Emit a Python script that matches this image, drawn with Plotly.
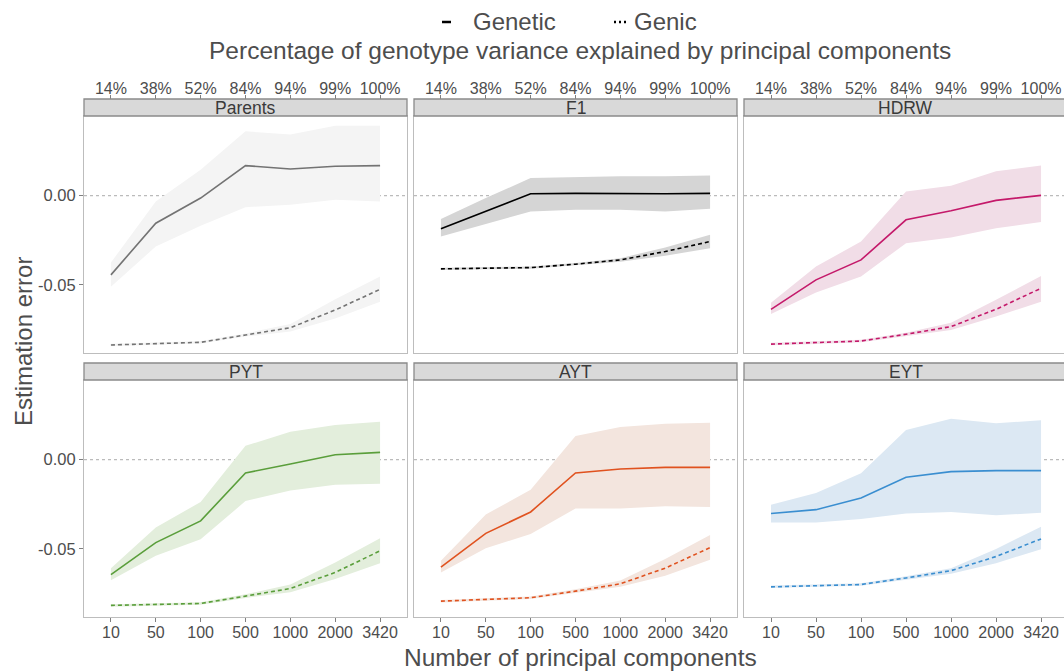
import plotly.graph_objects as go

# ---------------- data ----------------
pcs = ["10", "50", "100", "500", "1000", "2000", "3420"]
pct_labels = ["14%", "38%", "52%", "84%", "94%", "99%", "100%"]
populations = ["Parents", "F1", "HDRW", "PYT", "AYT", "EYT"]
y_tickvals = [-0.05, 0.0]
y_ticktext = ["-0.05", "0.00"]

parents_genetic = [-0.0444, -0.0154, -0.0013, 0.0169, 0.0150, 0.0165, 0.0169]
parents_genetic_hi = [-0.0375, -0.0032, 0.0146, 0.0361, 0.0343, 0.0393, 0.0393]
parents_genetic_lo = [-0.0510, -0.0285, -0.0169, -0.0064, -0.0051, -0.0022, -0.0032]
parents_genic = [-0.0837, -0.0828, -0.0822, -0.0781, -0.0740, -0.0641, -0.0525]
parents_genic_hi = [-0.0830, -0.0821, -0.0815, -0.0772, -0.0719, -0.0581, -0.0453]
parents_genic_lo = [-0.0844, -0.0835, -0.0829, -0.0790, -0.0762, -0.0688, -0.0594]

f1_genetic = [-0.0185, -0.0088, 0.0011, 0.0013, 0.0011, 0.0011, 0.0013]
f1_genetic_hi = [-0.0131, -0.0013, 0.0099, 0.0105, 0.0109, 0.0109, 0.0114]
f1_genetic_lo = [-0.0229, -0.0157, -0.0088, -0.0079, -0.0079, -0.0088, -0.0073]
f1_genic = [-0.0410, -0.0407, -0.0403, -0.0384, -0.0360, -0.0313, -0.0257]
f1_genic_hi = [-0.0404, -0.0401, -0.0397, -0.0377, -0.0350, -0.0290, -0.0219]
f1_genic_lo = [-0.0416, -0.0413, -0.0409, -0.0391, -0.0370, -0.0337, -0.0294]

hdrw_genetic = [-0.0637, -0.0472, -0.0360, -0.0135, -0.0084, -0.0026, 0.0002]
hdrw_genetic_hi = [-0.0600, -0.0397, -0.0257, 0.0024, 0.0056, 0.0137, 0.0169]
hdrw_genetic_lo = [-0.0663, -0.0543, -0.0453, -0.0266, -0.0234, -0.0182, -0.0148]
hdrw_genic = [-0.0832, -0.0824, -0.0815, -0.0777, -0.0734, -0.0637, -0.0519]
hdrw_genic_hi = [-0.0825, -0.0817, -0.0808, -0.0768, -0.0712, -0.0584, -0.0450]
hdrw_genic_lo = [-0.0839, -0.0831, -0.0822, -0.0786, -0.0753, -0.0678, -0.0594]

pyt_genetic = [-0.0644, -0.0465, -0.0343, -0.0074, -0.0024, 0.0028, 0.0041]
pyt_genetic_hi = [-0.0608, -0.0380, -0.0237, 0.0078, 0.0157, 0.0194, 0.0213]
pyt_genetic_lo = [-0.0676, -0.0539, -0.0446, -0.0232, -0.0172, -0.0141, -0.0135]
pyt_genic = [-0.0817, -0.0813, -0.0806, -0.0765, -0.0722, -0.0632, -0.0511]
pyt_genic_hi = [-0.0810, -0.0806, -0.0799, -0.0755, -0.0700, -0.0576, -0.0441]
pyt_genic_lo = [-0.0824, -0.0820, -0.0813, -0.0775, -0.0743, -0.0669, -0.0580]

ayt_genetic = [-0.0602, -0.0413, -0.0293, -0.0074, -0.0052, -0.0043, -0.0043]
ayt_genetic_hi = [-0.0567, -0.0307, -0.0169, 0.0133, 0.0183, 0.0202, 0.0207]
ayt_genetic_lo = [-0.0632, -0.0496, -0.0417, -0.0274, -0.0274, -0.0261, -0.0265]
ayt_genic = [-0.0793, -0.0784, -0.0774, -0.0737, -0.0696, -0.0608, -0.0493]
ayt_genic_hi = [-0.0786, -0.0777, -0.0767, -0.0727, -0.0678, -0.0557, -0.0422]
ayt_genic_lo = [-0.0800, -0.0791, -0.0781, -0.0747, -0.0713, -0.0650, -0.0561]

eyt_genetic = [-0.0302, -0.0280, -0.0215, -0.0098, -0.0067, -0.0061, -0.0061]
eyt_genetic_hi = [-0.0252, -0.0187, -0.0076, 0.0167, 0.0230, 0.0204, 0.0221]
eyt_genetic_lo = [-0.0352, -0.0352, -0.0333, -0.0302, -0.0293, -0.0311, -0.0298]
eyt_genic = [-0.0713, -0.0706, -0.0700, -0.0663, -0.0622, -0.0543, -0.0444]
eyt_genic_hi = [-0.0706, -0.0699, -0.0693, -0.0654, -0.0608, -0.0500, -0.0376]
eyt_genic_lo = [-0.0720, -0.0713, -0.0707, -0.0672, -0.0639, -0.0580, -0.0502]

line_colors = ["#737373", "#000000", "#c4196a", "#5a9e3b", "#e0521f", "#3a8ed0"]
ribbon_colors = ["#f4f4f4", "#d5d5d5", "#f1dde7", "#e3eedc", "#f3e5de", "#dce8f3"]

table = [
    (parents_genetic, parents_genetic_lo, parents_genetic_hi, parents_genic, parents_genic_lo, parents_genic_hi),
    (f1_genetic, f1_genetic_lo, f1_genetic_hi, f1_genic, f1_genic_lo, f1_genic_hi),
    (hdrw_genetic, hdrw_genetic_lo, hdrw_genetic_hi, hdrw_genic, hdrw_genic_lo, hdrw_genic_hi),
    (pyt_genetic, pyt_genetic_lo, pyt_genetic_hi, pyt_genic, pyt_genic_lo, pyt_genic_hi),
    (ayt_genetic, ayt_genetic_lo, ayt_genetic_hi, ayt_genic, ayt_genic_lo, ayt_genic_hi),
    (eyt_genetic, eyt_genetic_lo, eyt_genetic_hi, eyt_genic, eyt_genic_lo, eyt_genic_hi),
]

# ---------------- layout geometry (pixels of a 1064x672 page) ----------------
W, H = 1064, 672
col_px = [(84, 407), (414, 737), (744, 1064)]
row_px = [(116, 353), (380, 617)]
strip_h = 17
x_ranges = [[-0.6, 6.6], [-0.6, 6.6], [-0.6, 6.51]]
y_range = [-0.0882, 0.0447]

def px_x(p):
    return p / W

def px_y(p):
    return 1 - p / H

FONT = "Liberation Sans, Arial, sans-serif"
TXT = "#4d4d4d"

fig = go.Figure()
layout = dict(
    width=W, height=H,
    margin=dict(l=0, r=0, t=0, b=0),
    paper_bgcolor="white", plot_bgcolor="white",
    showlegend=False,
    font=dict(family=FONT, color=TXT),
)
shapes = []
annotations = []

for k, pop in enumerate(populations):
    r, c = divmod(k, 3)
    xname = "x" if k == 0 else f"x{k+1}"
    yname = "y" if k == 0 else f"y{k+1}"
    gen, gen_lo, gen_hi, gnc, gnc_lo, gnc_hi = table[k]

    for lo, hi in ((gen_lo, gen_hi), (gnc_lo, gnc_hi)):
        fig.add_trace(go.Scatter(
            x=pcs + pcs[::-1], y=hi + lo[::-1], fill="toself",
            fillcolor=ribbon_colors[k], line=dict(width=0), mode="lines",
            hoverinfo="skip", xaxis=xname, yaxis=yname))
    fig.add_trace(go.Scatter(x=pcs, y=gen, mode="lines",
                             line=dict(color=line_colors[k], width=1.6),
                             name="Genetic", xaxis=xname, yaxis=yname))
    fig.add_trace(go.Scatter(x=pcs, y=gnc, mode="lines",
                             line=dict(color=line_colors[k], width=1.6, dash="4px,3px"),
                             name="Genic", xaxis=xname, yaxis=yname))

    x0, x1 = col_px[c]
    yt, yb = row_px[r]
    layout["xaxis" if k == 0 else f"xaxis{k+1}"] = dict(
        domain=[px_x(x0), px_x(x1)], anchor=yname,
        type="category", categoryorder="array", categoryarray=pcs,
        range=x_ranges[c], showgrid=False, zeroline=False,
        showline=True, mirror=True, linecolor="#bdbdbd", linewidth=1,
        ticks="outside" if r == 1 else "", ticklen=4, tickcolor="#7f7f7f",
        showticklabels=(r == 1), ticklabelstandoff=-3,
        tickfont=dict(size=16, color=TXT, family=FONT),
    )
    layout["yaxis" if k == 0 else f"yaxis{k+1}"] = dict(
        domain=[px_y(yb), px_y(yt)], anchor=xname,
        range=y_range, showgrid=False, zeroline=False,
        showline=True, mirror=True, linecolor="#bdbdbd", linewidth=1,
        tickvals=y_tickvals, ticktext=y_ticktext,
        ticks="outside" if c == 0 else "", ticklen=4, tickcolor="#7f7f7f",
        showticklabels=(c == 0),
        tickfont=dict(size=16.5, color=TXT, family=FONT),
    )
    # zero reference line
    shapes.append(dict(type="line", xref=f"{xname} domain", yref=yname,
                       x0=0, x1=1, y0=0, y1=0,
                       line=dict(color="#aaaaaa", width=1, dash="3px,3px"), layer="below"))
    # strip
    shapes.append(dict(type="rect", xref="paper", yref="paper",
                       x0=px_x(x0), x1=px_x(x1 + (4 if c == 2 else 0)),
                       y0=px_y(yt), y1=px_y(yt - strip_h),
                       fillcolor="#d9d9d9", line=dict(color="#8a8a8a", width=1.3)))
    annotations.append(dict(text=pop, xref="paper", yref="paper",
                            x=px_x((x0 + (x1 if c < 2 else 1067)) / 2), y=px_y(yt - strip_h / 2),
                            xanchor="center", yanchor="middle", showarrow=False,
                            font=dict(size=17.5, color="#3a3a3a", family=FONT)))

# top secondary axes (percentage of variance)
for c in range(3):
    name = f"x{7+c}"
    base = "x" if c == 0 else f"x{c+1}"
    ybase = "y" if c == 0 else f"y{c+1}"
    layout[f"xaxis{7+c}"] = dict(
        overlaying=base, side="top", anchor="free", position=px_y(99),
        type="category", categoryorder="array", categoryarray=pcs,
        tickvals=pcs, ticktext=pct_labels,
        range=x_ranges[c], showgrid=False, zeroline=False, showline=False,
        ticks="outside", ticklen=4, tickcolor="#7f7f7f", ticklabelstandoff=-5,
        tickfont=dict(size=16, color=TXT, family=FONT),
    )
    fig.add_trace(go.Scatter(x=pcs, y=[None] * len(pcs), mode="lines",
                             xaxis=name, yaxis=ybase, hoverinfo="skip", showlegend=False))

# titles
annotations += [
    dict(text="Estimation error", xref="paper", yref="paper", x=px_x(23), y=px_y(342),
         textangle=-90, xanchor="center", yanchor="middle", showarrow=False,
         font=dict(size=24, color=TXT, family=FONT)),
    dict(text="Number of principal components", xref="paper", yref="paper",
         x=px_x(580), y=px_y(657), xanchor="center", yanchor="middle", showarrow=False,
         font=dict(size=24.5, color=TXT, family=FONT)),
    dict(text="Percentage of genotype variance explained by principal components",
         xref="paper", yref="paper", x=px_x(580), y=px_y(51),
         xanchor="center", yanchor="middle", showarrow=False,
         font=dict(size=24.5, color=TXT, family=FONT)),
    dict(text="Genetic", xref="paper", yref="paper", x=px_x(471), y=px_y(22),
         xanchor="left", yanchor="middle", showarrow=False,
         font=dict(size=24, color=TXT, family=FONT)),
    dict(text="Genic", xref="paper", yref="paper", x=px_x(632), y=px_y(22),
         xanchor="left", yanchor="middle", showarrow=False,
         font=dict(size=24, color=TXT, family=FONT)),
]
# legend keys
shapes += [
    dict(type="line", xref="paper", yref="paper", x0=px_x(442), x1=px_x(451),
         y0=px_y(22), y1=px_y(22), line=dict(color="#000000", width=2.5)),
    dict(type="line", xref="paper", yref="paper", x0=px_x(614), x1=px_x(629),
         y0=px_y(22), y1=px_y(22), line=dict(color="#000000", width=2.5, dash="2px,3px")),
]

layout["shapes"] = shapes
layout["annotations"] = annotations
fig.update_layout(**layout)
fig.write_html("out.html", config={"displayModeBar": False},
               post_script="document.body.style.margin='0';document.body.style.overflow='hidden';")
